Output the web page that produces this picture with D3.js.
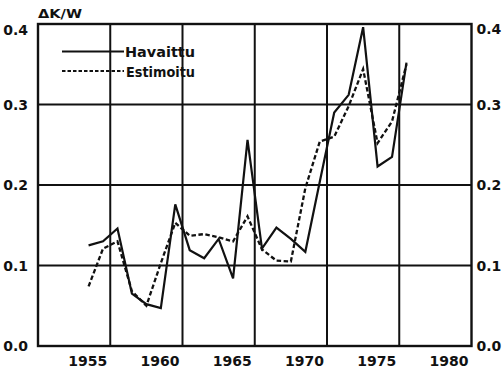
<!DOCTYPE html>
<html>
<head>
<meta charset="utf-8">
<script src="https://cdn.jsdelivr.net/npm/d3@7/dist/d3.min.js"></script>
<style>
  html, body { margin: 0; padding: 0; background: #fff; }
  svg { display: block; }
  text { font-family: "DejaVu Sans", sans-serif; font-weight: bold; fill: #111; }
</style>
</head>
<body>
<svg id="chart" width="503" height="371"></svg>
<script>
// ---- data ----
const years = [1954, 1955, 1956, 1957, 1958, 1959, 1960, 1961, 1962, 1963, 1964, 1965,
               1966, 1967, 1968, 1969, 1970, 1971, 1972, 1973, 1974, 1975, 1976];
const havaittu = [0.125, 0.130, 0.146, 0.065, 0.052, 0.047, 0.176, 0.119, 0.109, 0.133, 0.084, 0.256,
                  0.121, 0.147, 0.133, 0.117, 0.204, 0.290, 0.312, 0.396, 0.223, 0.235, 0.352];
const estimoitu = [0.074, 0.121, 0.130, 0.068, 0.050, 0.103, 0.153, 0.137, 0.139, 0.135, 0.130, 0.161,
                   0.120, 0.106, 0.105, 0.196, 0.254, 0.260, 0.298, 0.344, 0.252, 0.279, 0.350];
const xTicks = [1955, 1960, 1965, 1970, 1975, 1980];
const yTicks = [0.0, 0.1, 0.2, 0.3, 0.4];
const yLabels = ["0.0", "0.1", "0.2", "0.3", "0.4"];
const seriesNames = ["Havaittu", "Estimoitu"];
const yTitle = "\u0394K/W";

// ---- layout ----
const svg = d3.select("#chart");
const L = 38, R = 471.5, T = 24, B = 346;
const x = d3.scaleLinear().domain([1950, 1980]).range([L, R]);
const y = d3.scaleLinear().domain([0, 0.4]).range([B, T]);
const xPos = yr => x(yr - 0.5);

// grid lines
const g = svg.append("g");
g.selectAll("line.v").data(xTicks.filter(t => t > 1950 && t < 1980)).enter()
  .append("line").attr("class", "v")
  .attr("x1", d => x(d)).attr("x2", d => x(d))
  .attr("y1", T).attr("y2", B)
  .attr("stroke", "#111").attr("stroke-width", 2);
g.selectAll("line.h").data(yTicks.filter(t => t > 0 && t < 0.4)).enter()
  .append("line").attr("class", "h")
  .attr("x1", L).attr("x2", R)
  .attr("y1", d => y(d)).attr("y2", d => y(d))
  .attr("stroke", "#111").attr("stroke-width", 2);

// frame
svg.append("rect").attr("x", L).attr("y", T).attr("width", R - L).attr("height", B - T)
  .attr("fill", "none").attr("stroke", "#111").attr("stroke-width", 2.4);

// y labels left & right
svg.selectAll("text.yl").data(yTicks).enter().append("text").attr("class", "yl")
  .attr("x", L - 10).attr("y", d => y(d) + (d === 0.4 ? 11 : 5))
  .attr("text-anchor", "end").attr("font-size", 14)
  .text((d, i) => yLabels[i]);
svg.selectAll("text.yr").data(yTicks).enter().append("text").attr("class", "yr")
  .attr("x", R + 5).attr("y", d => y(d) + (d === 0.4 ? 10 : 5))
  .attr("text-anchor", "start").attr("font-size", 14)
  .text((d, i) => yLabels[i]);

// x labels
svg.selectAll("text.xl").data(xTicks).enter().append("text").attr("class", "xl")
  .attr("x", d => x(d) - 3).attr("y", 366)
  .attr("text-anchor", "end").attr("font-size", 14)
  .text(d => d);

// y title
svg.append("text").attr("x", 38).attr("y", 18).attr("font-size", 12)
  .attr("textLength", 44).attr("lengthAdjust", "spacingAndGlyphs")
  .text(yTitle);

// series lines
const line = d3.line().x((d, i) => xPos(years[i])).y(d => y(d));
svg.append("path").datum(estimoitu).attr("d", line)
  .attr("fill", "none").attr("stroke", "#111").attr("stroke-width", 2.3)
  .attr("stroke-dasharray", "4.5,2.5");
svg.append("path").datum(havaittu).attr("d", line)
  .attr("fill", "none").attr("stroke", "#111").attr("stroke-width", 2.2)
  .attr("stroke-linejoin", "miter");

// legend
const leg = svg.append("g");
leg.append("line").attr("x1", 62).attr("x2", 124).attr("y1", 51.5).attr("y2", 51.5)
  .attr("stroke", "#111").attr("stroke-width", 1.8);
leg.append("line").attr("x1", 62).attr("x2", 124).attr("y1", 71).attr("y2", 71)
  .attr("stroke", "#111").attr("stroke-width", 1.8).attr("stroke-dasharray", "3.5,2");
leg.append("text").attr("x", 125).attr("y", 57).attr("font-size", 14)
  .attr("textLength", 70).attr("lengthAdjust", "spacingAndGlyphs").text(seriesNames[0]);
leg.append("text").attr("x", 126).attr("y", 76.5).attr("font-size", 14)
  .attr("textLength", 69).attr("lengthAdjust", "spacingAndGlyphs").text(seriesNames[1]);
</script>
</body>
</html>
